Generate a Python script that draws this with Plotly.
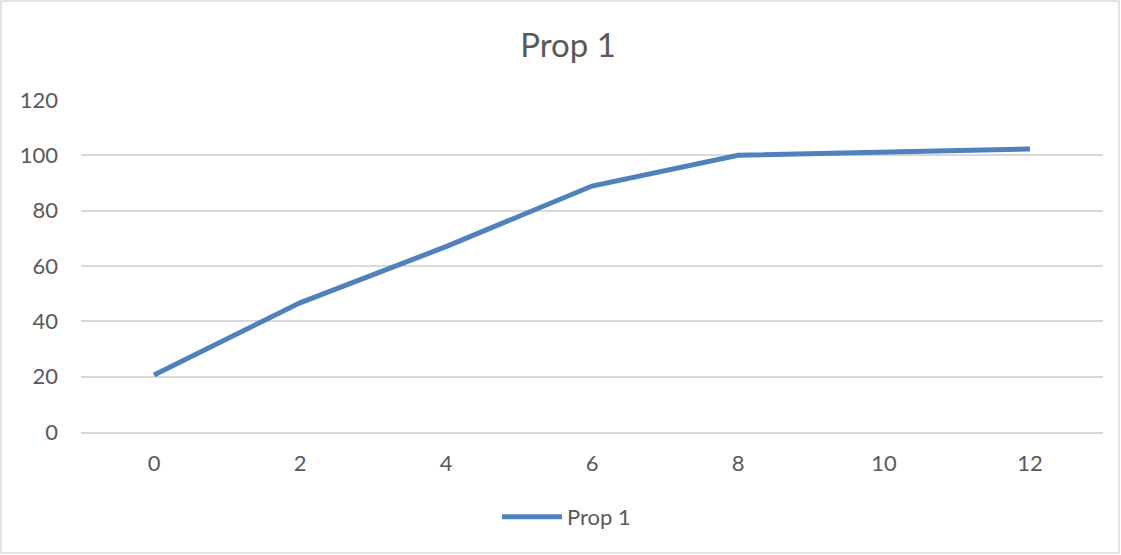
import plotly.graph_objects as go

x_vals = [0, 2, 4, 6, 8, 10, 12]
y_vals = [20.6, 46.7, 67.0, 88.9, 100.0, 101.2, 102.3]
series_name = "Prop 1"
title_text = "Prop 1"
x_ticks = [0, 2, 4, 6, 8, 10, 12]
y_ticks = [0, 20, 40, 60, 80, 100, 120]

W, H = 1121, 555
L, R, T, B = 81, 18, 100, 123
pw, ph = W - L - R, H - T - B

FONT = "Lato"
GRAY = "#595959"
GRID = "#D9D9D9"

fig = go.Figure()
fig.add_trace(go.Scatter(
    x=x_vals, y=y_vals, mode="lines", name=series_name,
    line=dict(color="#4F81BD", width=5),
))

fig.update_layout(
    width=W, height=H,
    margin=dict(l=L, r=R, t=T, b=B),
    paper_bgcolor="white", plot_bgcolor="white",
    font=dict(family=FONT, color=GRAY, size=22),
    title=dict(text=title_text, x=568 / W, xanchor="center", xref="container",
               y=1 - 45 / H, yanchor="middle", yref="container",
               font=dict(family=FONT, size=33, color=GRAY)),
    xaxis=dict(range=[-1, 13], tickvals=x_ticks, showgrid=False, zeroline=False,
               showline=True, linecolor=GRID, linewidth=1.5, ticks="",
               ticklabelstandoff=11, tickfont=dict(size=22, color=GRAY)),
    yaxis=dict(range=[0, 120], tickvals=y_ticks, showgrid=True, gridcolor=GRID,
               gridwidth=1.5, zeroline=False, showline=False, ticks="",
               ticklabelstandoff=22, tickfont=dict(size=22, color=GRAY)),
    showlegend=True,
    legend=dict(orientation="h", x=(497 - L) / pw, xanchor="left",
                y=(432 - 517) / ph, yanchor="middle",
                font=dict(size=22, color=GRAY), itemwidth=60,
                bgcolor="rgba(0,0,0,0)"),
    shapes=[dict(type="rect", xref="paper", yref="paper",
                 x0=(1 - L) / pw, x1=(1119 - L) / pw,
                 y0=(T + ph - 553) / ph, y1=(T + ph - 1) / ph,
                 line=dict(color=GRID, width=1.5), layer="below")],
)

fig.write_html("out.html", config={"displayModeBar": False},
               post_script="document.body.style.margin='0';")
